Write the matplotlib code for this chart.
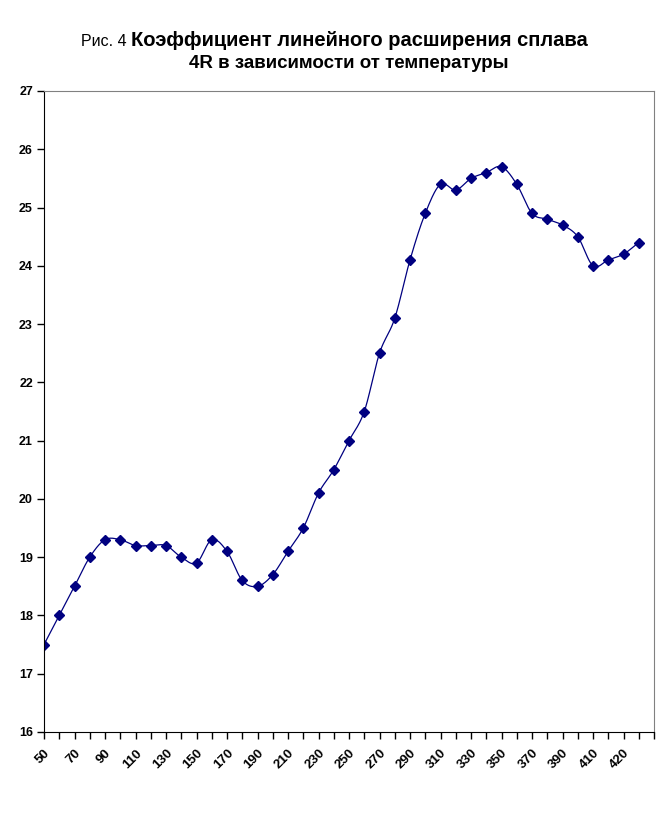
import numpy as np
import matplotlib
matplotlib.use("Agg")
import matplotlib.pyplot as plt

# Temperatures (category axis) and coefficient values
temps = [50, 60, 70, 80, 90, 100, 110, 120, 130, 140,
         150, 160, 170, 180, 190, 200, 210, 220, 230, 240,
         250, 260, 270, 280, 290, 300, 310, 320, 330, 340,
         350, 360, 370, 380, 390, 400, 410, 415, 420, 430]
coef = [17.5, 18.0, 18.5, 19.0, 19.3, 19.3, 19.2, 19.2, 19.2, 19.0,
        18.9, 19.3, 19.1, 18.6, 18.5, 18.7, 19.1, 19.5, 20.1, 20.5,
        21.0, 21.5, 22.5, 23.1, 24.1, 24.9, 25.4, 25.3, 25.5, 25.6,
        25.7, 25.4, 24.9, 24.8, 24.7, 24.5, 24.0, 24.1, 24.2, 24.4]
yticks = list(range(16, 28))

plt.rcParams["font.family"] = ["Liberation Sans", "DejaVu Sans"]


def smooth(x, y, n=20):
    # Catmull-Rom style smoothing, similar to Excel's smoothed line
    x = np.asarray(x, float)
    y = np.asarray(y, float)
    px = np.concatenate([[2 * x[0] - x[1]], x, [2 * x[-1] - x[-2]]])
    py = np.concatenate([[2 * y[0] - y[1]], y, [2 * y[-1] - y[-2]]])
    xs, ys = [], []
    t = np.linspace(0, 1, n, endpoint=False)
    for i in range(1, len(px) - 2):
        for arr, out in ((px, xs), (py, ys)):
            p0, p1, p2, p3 = arr[i - 1], arr[i], arr[i + 1], arr[i + 2]
            out.extend(0.5 * (2 * p1 + (-p0 + p2) * t
                              + (2 * p0 - 5 * p1 + 4 * p2 - p3) * t ** 2
                              + (-p0 + 3 * p1 - 3 * p2 + p3) * t ** 3))
    xs.append(x[-1])
    ys.append(y[-1])
    return xs, ys


fig = plt.figure(figsize=(6.69, 8.26), dpi=100)
ax = fig.add_axes([44 / 669, 1 - 732 / 826, 610 / 669, 641 / 826])

idx = np.arange(len(temps))
sx, sy = smooth(idx, coef)
ax.plot(sx, sy, color="#000080", lw=0.9)
ax.plot(idx, coef, ls="none", marker="D", ms=5, color="#000080")

ax.set_xlim(0, len(temps))
ax.set_ylim(16, 27)
ax.set_yticks(yticks)
ax.set_yticklabels([str(v) for v in yticks], fontsize=9, fontweight="bold")
ax.set_xticks(np.arange(len(temps) + 1), minor=True)
ax.set_xticks(idx[::2])
ax.set_xticklabels([str(t) for t in temps[::2]], rotation=45, ha="right",
                   va="top", rotation_mode="anchor", fontsize=9.5, fontweight="bold")
ax.tick_params(axis="x", which="both", length=5, width=1, direction="out", pad=6)
ax.tick_params(axis="y", length=5, width=1, direction="out", pad=3)

for side in ("top", "right"):
    ax.spines[side].set_color("#808080")
ax.spines["left"].set_color("black")
ax.spines["bottom"].set_color("black")

# Title: small "Рис. 4" followed by bold caption
fig.text(349 / 669, 1 - 63 / 826, "4R в зависимости от температуры",
         ha="center", va="center", fontsize=13.5, fontweight="bold")
main = fig.text(0.5, 1 - 40 / 826, "Коэффициент линейного расширения сплава",
                ha="center", va="center", fontsize=14.5, fontweight="bold")
pre = fig.text(0, 1 - 41 / 826, "Рис. 4 ", ha="left", va="center", fontsize=11.5)
fig.canvas.draw()
r = fig.canvas.get_renderer()
wm = main.get_window_extent(r).width / fig.bbox.width
wp = pre.get_window_extent(r).width / fig.bbox.width
start = 0.5 - (wm + wp) / 2
pre.set_x(start)
main.set_x(start + wp)
main.set_ha("left")

fig.savefig("out.png", dpi=100)
